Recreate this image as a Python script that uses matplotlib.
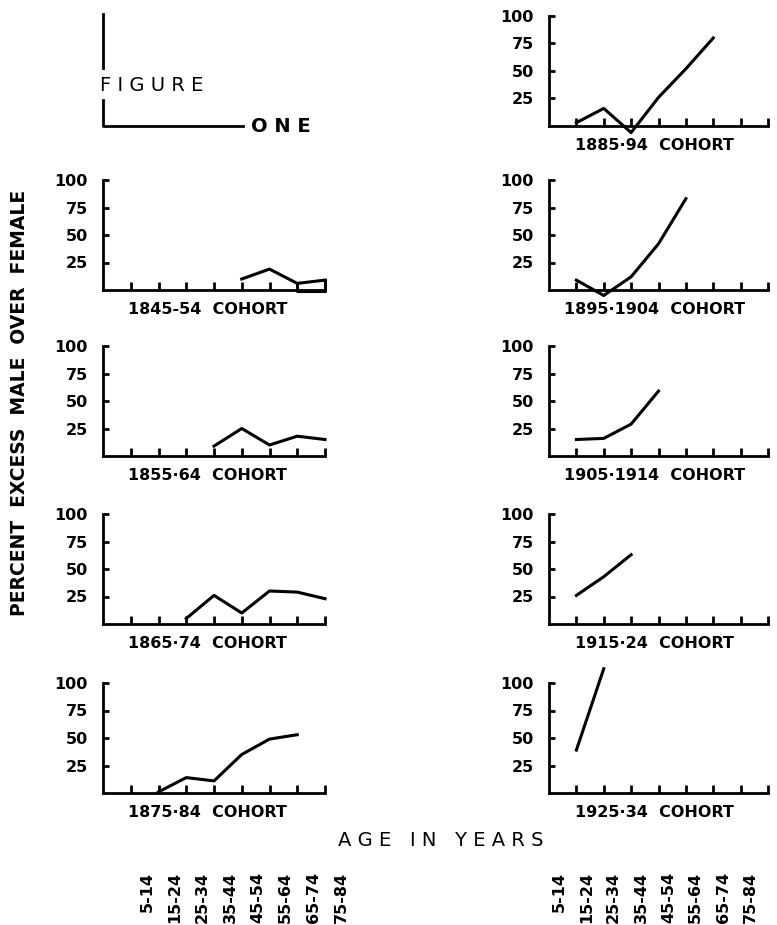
import matplotlib.pyplot as plt
from matplotlib.transforms import blended_transform_factory

# age groups along the x axis (tick 1..8)
ages = ['5-14', '15-24', '25-34', '35-44', '45-54', '55-64', '65-74', '75-84']
yticks = [25, 50, 75, 100]

# percent excess male over female, by cohort (x = age group index)
left_cohorts = ['1845-54', '1855·64', '1865·74', '1875·84']
left_x = [[5, 6, 7, 8], [4, 5, 6, 7, 8], [3, 4, 5, 6, 7, 8], [2, 3, 4, 5, 6, 7]]
left_y = [[10, 19, 6, 9], [9, 25, 10, 18, 15], [5, 26, 10, 30, 29, 23],
          [1, 14, 11, 35, 49, 53]]

# second trace in the 1845-54 panel
loop_x = [7, 7, 8, 8]
loop_y = [6, -1, -1, 9]

right_cohorts = ['1885·94', '1895·1904', '1905·1914', '1915·24', '1925·34']
right_x = [[1, 2, 3, 4, 5, 6], [1, 2, 3, 4, 5], [1, 2, 3, 4], [1, 2, 3], [1, 2]]
right_y = [[3, 16, -6, 26, 52, 80], [9, -5, 12, 42, 83], [15, 16, 29, 59],
           [26, 43, 63], [39, 113]]

W, H = 777, 925
fig = plt.figure(figsize=(W / 100, H / 100), dpi=100)
plt.rcParams['font.family'] = 'DejaVu Sans'

bases = [126, 290, 456, 624, 793]


def box(x0, base, w, h=110):
    return [x0 / W, 1 - base / H, w / W, h / H]


def panel(rect, xs, ys, label, lx):
    ax = fig.add_axes(rect)
    ax.set_xlim(0, 8)
    ax.set_ylim(0, 100)
    ax.spines[['top', 'right']].set_visible(False)
    for s in ['left', 'bottom']:
        ax.spines[s].set_linewidth(2)
    ax.set_xticks(range(1, 9))
    ax.set_xticklabels([])
    ax.set_yticks(yticks)
    ax.set_yticklabels([str(t) for t in yticks], fontsize=11.5, fontweight='bold')
    ax.tick_params(axis='x', direction='in', length=6, width=2)
    ax.tick_params(axis='y', direction='in', length=4.5, width=2, pad=11)
    ax.plot(xs, ys, color='black', lw=2.2, clip_on=False)
    ax.text(lx, -0.18, label + '  COHORT', transform=ax.transAxes, ha='center',
            va='center', fontsize=11.5, fontweight='bold')
    ax.patch.set_visible(False)
    return ax


for i, name in enumerate(left_cohorts):
    ax = panel(box(103, bases[i + 1], 222), left_x[i], left_y[i], name, 0.47)
    if i == 0:
        ax.plot(loop_x, loop_y, color='black', lw=2.2, clip_on=False)
    if i == 3:
        ax_left = ax

for i, name in enumerate(right_cohorts):
    ax = panel(box(549, bases[i], 219), right_x[i], right_y[i], name, 0.48)
    if i == 4:
        ax_right = ax

# "FIGURE ONE" corner mark
ax = fig.add_axes(box(103, 126, 222))
ax.set_xlim(0, 8)
ax.set_ylim(0, 100)
ax.axis('off')
ax.plot([0, 0], [102, 53], color='black', lw=2, clip_on=False)
ax.plot([0, 0, 5.05], [24, 0, 0], color='black', lw=2, clip_on=False)
ax.text(-0.1, 37, 'F I G U R E', fontsize=14, ha='left', va='center')
ax.text(5.35, 0, 'O N E', fontsize=14, fontweight='bold', ha='left', va='center')

fig.text(20 / W, 1 - 403 / H, 'PERCENT  EXCESS  MALE  OVER  FEMALE', rotation=90,
         ha='center', va='center', fontsize=13.5, fontweight='bold')
fig.text(441 / W, 1 - 840 / H, 'A G E   I N   Y E A R S', ha='center', va='center',
         fontsize=14)

# age group labels under each column
for ax, off in [(ax_left, 0.58), (ax_right, -0.64)]:
    tr = blended_transform_factory(ax.transData, fig.transFigure)
    for i, a in enumerate(ages):
        ax.text(i + 1 + off, 1 - 872 / H, a, transform=tr, rotation=90,
                ha='center', va='top', fontsize=11.5, fontweight='bold')

fig.savefig('out.png', dpi=100)
